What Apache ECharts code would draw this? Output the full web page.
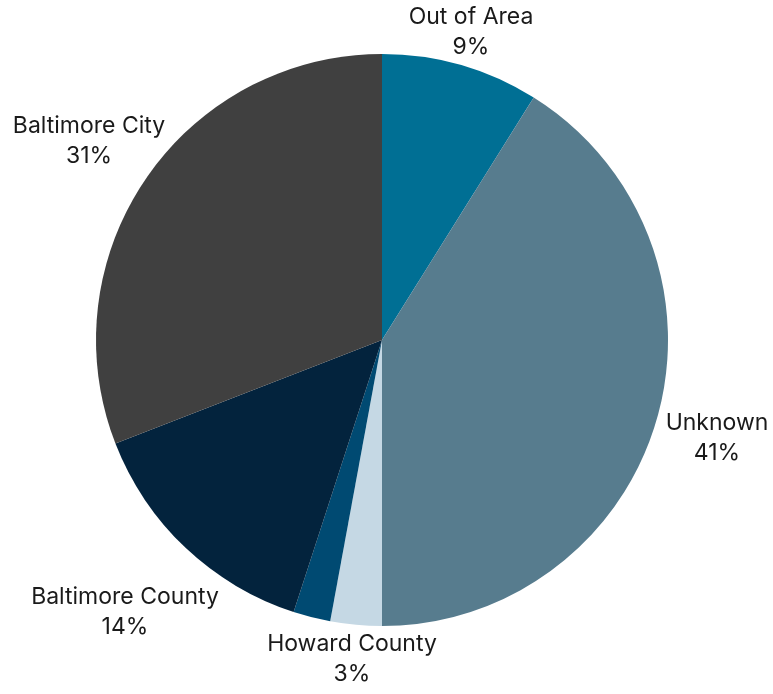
<!DOCTYPE html>
<html><head><meta charset="utf-8">
<script src="https://cdn.jsdelivr.net/npm/echarts@6/dist/echarts.min.js"></script>
<style>html,body{margin:0;padding:0;background:#fff}#c{width:773px;height:694px}</style>
</head><body><div id="c"></div>
<script>
const categories = ['Out of Area', 'Unknown', 'Howard County', 'Other', 'Baltimore County', 'Baltimore City'];
const values = [8.9, 41.1, 2.9, 2.1, 14.1, 30.9];
const colors = ['#006F94', '#577C8E', '#C5D8E4', '#004A72', '#03233D', '#404040'];
const hiddenLabels = ['Other'];

// label anchor placement (style only, centre of each two-line label block)
const labelAnchors = {
  'Out of Area': [471, 32],
  'Unknown': [717, 438],
  'Howard County': [352, 659],
  'Baltimore County': [125, 612],
  'Baltimore City': [89, 141]
};

const chart = echarts.init(document.getElementById('c'));
chart.setOption({
  animation: false,
  series: [{
    type: 'pie',
    center: [382, 340],
    radius: 286,
    startAngle: 90,
    clockwise: true,
    percentPrecision: 0,
    avoidLabelOverlap: false,
    label: {
      show: true,
      position: 'outside',
      formatter: '{b}\n{d}%',
      fontFamily: 'Inter',
      fontSize: 23,
      lineHeight: 30,
      color: '#1a1a1a',
      align: 'center'
    },
    labelLine: { show: false, length: 8, length2: 0 },
    labelLayout: function (p) {
      const a = labelAnchors[categories[p.dataIndex]];
      if (!a) return {};
      return { x: a[0], y: a[1], align: 'center', verticalAlign: 'middle' };
    },
    itemStyle: { borderWidth: 0 },
    data: categories.map((n, i) => ({
      name: n, value: values[i],
      itemStyle: { color: colors[i] },
      label: { show: hiddenLabels.indexOf(n) < 0 }
    }))
  }]
});
</script></body></html>
